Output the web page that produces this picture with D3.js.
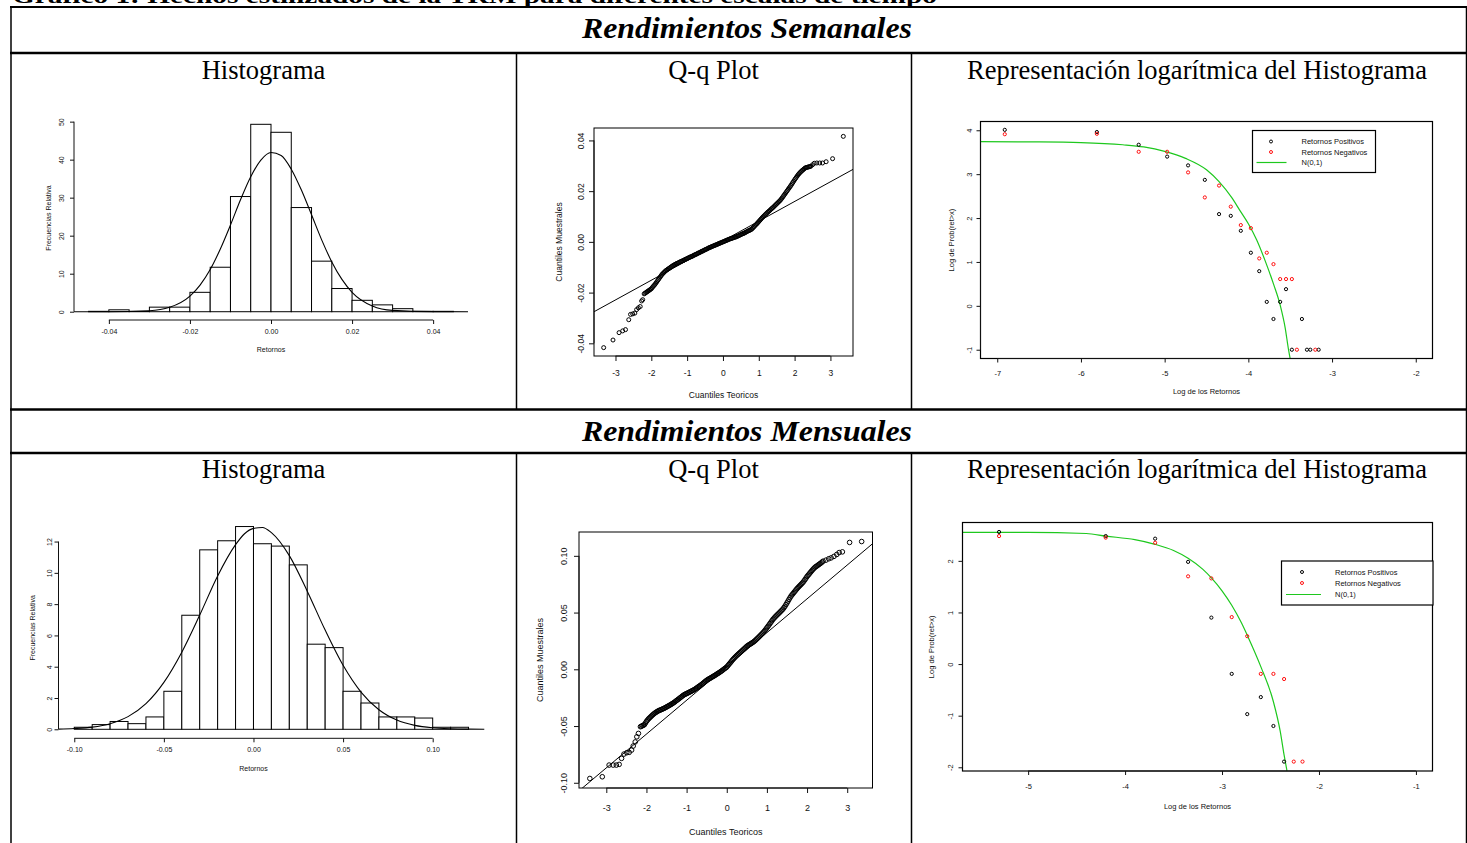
<!DOCTYPE html>
<html>
<head>
<meta charset="utf-8">
<script src="https://cdn.jsdelivr.net/npm/d3@7"></script>
<style>
  body { margin: 0; background: #fff; }
  svg { display: block; }
</style>
</head>
<body>
<svg id="chart" width="1467" height="843"></svg>
<script>
// ---------- data ----------
const pageTitle = "Gráfico 1: Hechos estilizados de la TRM para diferentes escalas de tiempo";
const rowTitles = ["Rendimientos Semanales", "Rendimientos Mensuales"];
const columnTitles = ["Histograma", "Q-q Plot", "Representación logarítmica del Histograma"];
const legendLabels = ["Retornos Positivos", "Retornos Negativos", "N(0,1)"];

// weekly histogram
const weeklyBreaks = [-0.045, -0.04, -0.035, -0.03, -0.025, -0.02, -0.015, -0.01, -0.005, 0,
  0.005, 0.01, 0.015, 0.02, 0.025, 0.03, 0.035, 0.04, 0.045];
const weeklyFreq = [0.1, 0.5, 0.1, 1.2, 1.2, 5.1, 11.7, 30.3, 49.3, 47.2, 27.4, 13.3, 6.1, 3.0, 1.8, 0.8, 0.1, 0.1];
const weeklyDensX = [-0.0486, -0.04, -0.03, -0.025, -0.02, -0.0175, -0.015, -0.0125, -0.01, -0.0075, -0.005, -0.0025,
  0, 0.0025, 0.005, 0.0075, 0.01, 0.0125, 0.015, 0.0175, 0.02, 0.025, 0.03, 0.04, 0.0486];
const weeklyDensY = [0, 0.005, 0.24, 1.15, 4.1, 7.0, 11.1, 16.5, 22.8, 29.5, 35.5, 39.9,
  41.9, 41.1, 37.5, 32.0, 25.5, 18.9, 13.1, 8.5, 5.1, 1.5, 0.34, 0.01, 0];
const weeklyXTicks = [-0.04, -0.02, 0, 0.02, 0.04];
const weeklyYTicks = [0, 10, 20, 30, 40, 50];

// monthly histogram
const monthlyBreaks = [-0.10, -0.09, -0.08, -0.07, -0.06, -0.05, -0.04, -0.03, -0.02, -0.01, 0,
  0.01, 0.02, 0.03, 0.04, 0.05, 0.06, 0.07, 0.08, 0.09, 0.10, 0.11, 0.12];
const monthlyFreq = [0.13, 0.3, 0.5, 0.36, 0.79, 2.43, 7.29, 11.47, 12.05, 12.96, 11.86,
  11.71, 10.51, 5.44, 5.22, 2.43, 1.68, 0.79, 0.79, 0.72, 0.13, 0.13];
const monthlyDensX = [-0.1088, -0.10, -0.09, -0.08, -0.07, -0.06, -0.05, -0.04, -0.03, -0.02, -0.01, -0.005,
  0, 0.005, 0.01, 0.02, 0.03, 0.04, 0.05, 0.06, 0.07, 0.08, 0.09, 0.10, 0.11, 0.12, 0.1288];
const monthlyDensY = [0.01, 0.05, 0.14, 0.36, 0.81, 1.64, 3.0, 4.93, 7.3, 9.8, 11.8, 12.5,
  12.84, 12.9, 12.57, 11.1, 8.83, 6.34, 4.09, 2.38, 1.25, 0.59, 0.25, 0.096, 0.033, 0.01, 0.004];
const monthlyXTicks = [-0.10, -0.05, 0, 0.05, 0.10];
const monthlyYTicks = [0, 2, 4, 6, 8, 10, 12];

// weekly Q-Q plot: [theoretical quantile, sample quantile]
const qqWeekly = [
  [-3.33, -0.0417], [-3.07, -0.0387], [-2.90, -0.0358], [-2.80, -0.0351], [-2.72, -0.0346], [-2.63, -0.0307],
  [-2.58, -0.0286], [-2.52, -0.0284], [-2.46, -0.0281], [-2.41, -0.0267], [-2.36, -0.0260], [-2.31, -0.0255],
  [-2.27, -0.0233], [-2.24, -0.0228],
  [-2.200, -0.02050], [-2.175, -0.02025], [-2.150, -0.02000], [-2.125, -0.01975], [-2.100, -0.01950],
  [-2.075, -0.01925], [-2.050, -0.01900], [-2.025, -0.01875], [-2.000, -0.01850], [-1.975, -0.01805],
  [-1.950, -0.01760], [-1.925, -0.01720], [-1.900, -0.01680], [-1.875, -0.01630], [-1.850, -0.01580],
  [-1.825, -0.01530], [-1.800, -0.01480], [-1.775, -0.01430], [-1.750, -0.01380], [-1.725, -0.01330],
  [-1.700, -0.01280], [-1.675, -0.01245], [-1.650, -0.01210], [-1.625, -0.01175], [-1.600, -0.01140],
  [-1.575, -0.01115], [-1.550, -0.01090], [-1.525, -0.01065], [-1.500, -0.01040], [-1.475, -0.01015],
  [-1.450, -0.00990], [-1.425, -0.00965], [-1.400, -0.00940], [-1.375, -0.00920], [-1.350, -0.00900],
  [-1.325, -0.00880], [-1.300, -0.00860], [-1.275, -0.00845], [-1.250, -0.00830], [-1.225, -0.00810],
  [-1.200, -0.00790], [-1.175, -0.00775], [-1.150, -0.00760], [-1.125, -0.00745], [-1.100, -0.00730],
  [-1.075, -0.00710], [-1.050, -0.00690], [-1.025, -0.00675], [-1.000, -0.00660], [-0.975, -0.00640],
  [-0.950, -0.00620], [-0.925, -0.00605], [-0.900, -0.00590], [-0.875, -0.00575], [-0.850, -0.00560],
  [-0.825, -0.00540], [-0.800, -0.00520], [-0.775, -0.00505], [-0.750, -0.00490], [-0.725, -0.00470],
  [-0.700, -0.00450], [-0.675, -0.00435], [-0.650, -0.00420], [-0.625, -0.00400], [-0.600, -0.00380],
  [-0.575, -0.00365], [-0.550, -0.00350], [-0.525, -0.00330], [-0.500, -0.00310], [-0.475, -0.00295],
  [-0.450, -0.00280], [-0.425, -0.00260], [-0.400, -0.00240], [-0.375, -0.00225], [-0.350, -0.00210],
  [-0.325, -0.00195], [-0.300, -0.00180], [-0.275, -0.00165], [-0.250, -0.00150], [-0.225, -0.00135],
  [-0.200, -0.00120], [-0.175, -0.00105], [-0.150, -0.00090], [-0.125, -0.00075], [-0.100, -0.00060],
  [-0.075, -0.00045], [-0.050, -0.00030], [-0.025, -0.00015], [0.000, 0.00000], [0.025, 0.00015],
  [0.050, 0.00030], [0.075, 0.00045], [0.100, 0.00060], [0.125, 0.00075], [0.150, 0.00090],
  [0.175, 0.00105], [0.200, 0.00120], [0.225, 0.00130], [0.250, 0.00140], [0.275, 0.00155],
  [0.300, 0.00170], [0.325, 0.00180], [0.350, 0.00190], [0.375, 0.00205], [0.400, 0.00220],
  [0.425, 0.00235], [0.450, 0.00250], [0.475, 0.00270], [0.500, 0.00290], [0.525, 0.00305],
  [0.550, 0.00320], [0.575, 0.00335], [0.600, 0.00350], [0.625, 0.00370], [0.650, 0.00390],
  [0.675, 0.00410], [0.700, 0.00430], [0.725, 0.00445], [0.750, 0.00460], [0.775, 0.00480],
  [0.800, 0.00500], [0.825, 0.00535], [0.850, 0.00570], [0.875, 0.00610], [0.900, 0.00650],
  [0.925, 0.00685], [0.950, 0.00720], [0.975, 0.00760], [1.000, 0.00800], [1.025, 0.00840],
  [1.050, 0.00880], [1.075, 0.00920], [1.100, 0.00960], [1.125, 0.00995], [1.150, 0.01030],
  [1.175, 0.01065], [1.200, 0.01100], [1.225, 0.01135], [1.250, 0.01170], [1.275, 0.01200],
  [1.300, 0.01230], [1.325, 0.01265], [1.350, 0.01300], [1.375, 0.01330], [1.400, 0.01360],
  [1.425, 0.01395], [1.450, 0.01430], [1.475, 0.01465], [1.500, 0.01500], [1.525, 0.01535],
  [1.550, 0.01570], [1.575, 0.01605], [1.600, 0.01640], [1.625, 0.01685], [1.650, 0.01730],
  [1.675, 0.01780], [1.700, 0.01830], [1.725, 0.01880], [1.750, 0.01930], [1.775, 0.01980],
  [1.800, 0.02030], [1.825, 0.02080], [1.850, 0.02130], [1.875, 0.02180], [1.900, 0.02230],
  [1.925, 0.02285], [1.950, 0.02340], [1.975, 0.02395], [2.000, 0.02450], [2.025, 0.02500],
  [2.050, 0.02550], [2.075, 0.02600], [2.100, 0.02650], [2.125, 0.02690], [2.150, 0.02730],
  [2.175, 0.02765], [2.200, 0.02800], [2.225, 0.02830], [2.250, 0.02860], [2.275, 0.02890],
  [2.300, 0.02920], [2.325, 0.02930], [2.350, 0.02940], [2.375, 0.02950], [2.400, 0.02960],
  [2.425, 0.02970], [2.450, 0.02980],
  [2.50, 0.0304], [2.55, 0.0310], [2.62, 0.0311], [2.70, 0.0311], [2.78, 0.0311], [2.88, 0.0316],
  [3.06, 0.0328], [3.36, 0.0416]
];
const qqWeeklyLine = [[-3.8, -0.0291], [3.8, 0.0299]];
const qqWeeklyXTicks = [-3, -2, -1, 0, 1, 2, 3];
const qqWeeklyYTicks = [-0.04, -0.02, 0, 0.02, 0.04];

// monthly Q-Q plot
const qqMonthly = [
  [-3.41, -0.0962], [-3.10, -0.0947], [-2.93, -0.0844], [-2.83, -0.0844], [-2.75, -0.0844], [-2.68, -0.0838],
  [-2.62, -0.0785], [-2.56, -0.0747], [-2.49, -0.0735], [-2.43, -0.0732], [-2.37, -0.0712], [-2.33, -0.0676],
  [-2.28, -0.0640], [-2.24, -0.0595], [-2.20, -0.0565],
  [-2.150, -0.05060], [-2.125, -0.05015], [-2.100, -0.04970], [-2.075, -0.04925], [-2.050, -0.04880],
  [-2.025, -0.04735], [-2.000, -0.04590], [-1.975, -0.04480], [-1.950, -0.04370], [-1.925, -0.04285],
  [-1.900, -0.04200], [-1.875, -0.04115], [-1.850, -0.04030], [-1.825, -0.03955], [-1.800, -0.03880],
  [-1.775, -0.03820], [-1.750, -0.03760], [-1.725, -0.03705], [-1.700, -0.03650], [-1.675, -0.03615],
  [-1.650, -0.03580], [-1.625, -0.03540], [-1.600, -0.03500], [-1.575, -0.03460], [-1.550, -0.03420],
  [-1.525, -0.03370], [-1.500, -0.03320], [-1.475, -0.03270], [-1.450, -0.03220], [-1.425, -0.03170],
  [-1.400, -0.03120], [-1.375, -0.03065], [-1.350, -0.03010], [-1.325, -0.02950], [-1.300, -0.02890],
  [-1.275, -0.02820], [-1.250, -0.02750], [-1.225, -0.02685], [-1.200, -0.02620], [-1.175, -0.02550],
  [-1.150, -0.02480], [-1.125, -0.02410], [-1.100, -0.02340], [-1.075, -0.02280], [-1.050, -0.02220],
  [-1.025, -0.02180], [-1.000, -0.02140], [-0.975, -0.02095], [-0.950, -0.02050], [-0.925, -0.02005],
  [-0.900, -0.01960], [-0.875, -0.01915], [-0.850, -0.01870], [-0.825, -0.01820], [-0.800, -0.01770],
  [-0.775, -0.01710], [-0.750, -0.01650], [-0.725, -0.01585], [-0.700, -0.01520], [-0.675, -0.01460],
  [-0.650, -0.01400], [-0.625, -0.01330], [-0.600, -0.01260], [-0.575, -0.01185], [-0.550, -0.01110],
  [-0.525, -0.01040], [-0.500, -0.00970], [-0.475, -0.00915], [-0.450, -0.00860], [-0.425, -0.00810],
  [-0.400, -0.00760], [-0.375, -0.00705], [-0.350, -0.00650], [-0.325, -0.00600], [-0.300, -0.00550],
  [-0.275, -0.00490], [-0.250, -0.00430], [-0.225, -0.00375], [-0.200, -0.00320], [-0.175, -0.00260],
  [-0.150, -0.00200], [-0.125, -0.00135], [-0.100, -0.00070], [-0.075, 0.00000], [-0.050, 0.00070],
  [-0.025, 0.00135], [0.000, 0.00200], [0.025, 0.00310], [0.050, 0.00420], [0.075, 0.00525],
  [0.100, 0.00630], [0.125, 0.00740], [0.150, 0.00850], [0.175, 0.00945], [0.200, 0.01040],
  [0.225, 0.01130], [0.250, 0.01220], [0.275, 0.01300], [0.300, 0.01380], [0.325, 0.01460],
  [0.350, 0.01540], [0.375, 0.01620], [0.400, 0.01700], [0.425, 0.01780], [0.450, 0.01860],
  [0.475, 0.01945], [0.500, 0.02030], [0.525, 0.02090], [0.550, 0.02150], [0.575, 0.02205],
  [0.600, 0.02260], [0.625, 0.02315], [0.650, 0.02370], [0.675, 0.02440], [0.700, 0.02510],
  [0.725, 0.02595], [0.750, 0.02680], [0.775, 0.02765], [0.800, 0.02850], [0.825, 0.02940],
  [0.850, 0.03030], [0.875, 0.03120], [0.900, 0.03210], [0.925, 0.03315], [0.950, 0.03420],
  [0.975, 0.03540], [1.000, 0.03660], [1.025, 0.03780], [1.050, 0.03900], [1.075, 0.04025],
  [1.100, 0.04150], [1.125, 0.04275], [1.150, 0.04400], [1.175, 0.04500], [1.200, 0.04600],
  [1.225, 0.04690], [1.250, 0.04780], [1.275, 0.04865], [1.300, 0.04950], [1.325, 0.05040],
  [1.350, 0.05130], [1.375, 0.05220], [1.400, 0.05310], [1.425, 0.05435], [1.450, 0.05560],
  [1.475, 0.05705], [1.500, 0.05850], [1.525, 0.06005], [1.550, 0.06160], [1.575, 0.06305],
  [1.600, 0.06450], [1.625, 0.06560], [1.650, 0.06670], [1.675, 0.06780], [1.700, 0.06890],
  [1.725, 0.07000], [1.750, 0.07110], [1.775, 0.07205], [1.800, 0.07300], [1.825, 0.07390],
  [1.850, 0.07480], [1.875, 0.07575], [1.900, 0.07670], [1.925, 0.07790], [1.950, 0.07910],
  [1.975, 0.08045], [2.000, 0.08180], [2.025, 0.08285], [2.050, 0.08390], [2.075, 0.08500],
  [2.100, 0.08610], [2.125, 0.08715], [2.150, 0.08820], [2.175, 0.08910], [2.200, 0.09000],
  [2.225, 0.09060], [2.250, 0.09120], [2.275, 0.09185], [2.300, 0.09250], [2.325, 0.09315],
  [2.350, 0.09380], [2.375, 0.09455], [2.400, 0.09530],
  [2.47, 0.0962], [2.54, 0.0974], [2.60, 0.0982], [2.67, 0.0995], [2.74, 0.1012], [2.80, 0.1029],
  [2.88, 0.1035], [3.06, 0.1118], [3.36, 0.1126]
];
const qqMonthlyLine = [[-3.8, -0.1107], [3.8, 0.1157]];
const qqMonthlyXTicks = [-3, -2, -1, 0, 1, 2, 3];
const qqMonthlyYTicks = [-0.10, -0.05, 0, 0.05, 0.10];

// weekly log tails: [log return, log prob]
const logWeeklyPos = [[-6.91, 4.01], [-5.81, 3.96], [-5.31, 3.67], [-4.97, 3.40], [-4.72, 3.20], [-4.52, 2.87],
  [-4.35, 2.09], [-4.21, 2.05], [-4.09, 1.71], [-3.97, 1.21], [-3.87, 0.79], [-3.78, 0.09], [-3.70, -0.30],
  [-3.62, 0.09], [-3.55, 0.38], [-3.48, -1.0], [-3.36, -0.30], [-3.30, -1.0], [-3.26, -1.0], [-3.16, -1.0]];
const logWeeklyNeg = [[-6.91, 3.91], [-5.81, 3.92], [-5.31, 3.51], [-4.97, 3.51], [-4.72, 3.04], [-4.52, 2.47],
  [-4.35, 2.74], [-4.21, 2.26], [-4.09, 1.84], [-3.97, 1.77], [-3.87, 1.08], [-3.78, 1.21], [-3.70, 0.95],
  [-3.62, 0.61], [-3.55, 0.61], [-3.48, 0.61], [-3.42, -1.0], [-3.20, -1.0]];
const logWeeklyNormal = [[-7.2, 3.74], [-6.5, 3.735], [-6.0, 3.72], [-5.5, 3.67], [-5.25, 3.62], [-5.0, 3.52],
  [-4.75, 3.36], [-4.5, 3.10], [-4.35, 2.83], [-4.2, 2.47], [-4.1, 2.17], [-4.0, 1.87], [-3.9, 1.50],
  [-3.8, 1.03], [-3.7, 0.50], [-3.62, 0.02], [-3.56, -0.50], [-3.52, -1.0], [-3.50, -1.21]];
const logWeeklyXTicks = [-7, -6, -5, -4, -3, -2];
const logWeeklyYTicks = [-1, 0, 1, 2, 3, 4];

// monthly log tails
const logMonthlyPos = [[-5.30, 2.56], [-4.20, 2.48], [-3.69, 2.43], [-3.35, 1.98], [-3.11, 0.90], [-2.90, -0.19],
  [-2.74, -0.97], [-2.60, -0.64], [-2.47, -1.20], [-2.36, -1.89]];
const logMonthlyNeg = [[-5.30, 2.48], [-4.20, 2.45], [-3.69, 2.35], [-3.35, 1.70], [-3.11, 1.66], [-2.90, 0.91],
  [-2.74, 0.54], [-2.60, -0.19], [-2.47, -0.19], [-2.36, -0.29], [-2.26, -1.89], [-2.17, -1.89]];
const logMonthlyNormal = [[-5.68, 2.55], [-5.0, 2.55], [-4.4, 2.53], [-4.2, 2.48], [-3.9, 2.41], [-3.69, 2.32],
  [-3.5, 2.20], [-3.35, 2.05], [-3.2, 1.84], [-3.11, 1.67], [-3.0, 1.42], [-2.9, 1.14], [-2.8, 0.80],
  [-2.74, 0.56], [-2.6, -0.05], [-2.47, -0.73], [-2.4, -1.30], [-2.36, -1.76], [-2.33, -2.07]];
const logMonthlyXTicks = [-5, -4, -3, -2, -1];
const logMonthlyYTicks = [-2, -1, 0, 1, 2];

// ---------- drawing ----------
const svg = d3.select("#chart");
const SANS = "'Liberation Sans', Arial, sans-serif";
const SERIF = "'Liberation Serif', 'Times New Roman', serif";
const INK = "#111";

// table frame
const frame = svg.append("g").attr("stroke", "#000").attr("fill", "none");
frame.append("line").attr("x1", 10).attr("x2", 1467).attr("y1", 7).attr("y2", 7).attr("stroke-width", 2);
frame.append("line").attr("x1", 11).attr("x2", 11).attr("y1", 6).attr("y2", 843).attr("stroke-width", 1.5);
frame.append("line").attr("x1", 1466.5).attr("x2", 1466.5).attr("y1", 6).attr("y2", 843).attr("stroke-width", 1.5);
[53, 409.5, 453].forEach(y => {
  frame.append("line").attr("x1", 10).attr("x2", 1467).attr("y1", y).attr("y2", y).attr("stroke-width", 2.5);
});
[516.5, 911.5].forEach(x => {
  frame.append("line").attr("x1", x).attr("x2", x).attr("y1", 53).attr("y2", 409.5).attr("stroke-width", 1.5);
  frame.append("line").attr("x1", x).attr("x2", x).attr("y1", 453).attr("y2", 843).attr("stroke-width", 1.5);
});

// page caption, cut off at the top edge as in the source page
svg.append("text").attr("x", 12).attr("y", 2.5)
  .attr("font-family", SERIF).attr("font-weight", "bold").attr("font-size", 20)
  .attr("textLength", 925).attr("lengthAdjust", "spacingAndGlyphs")
  .text(pageTitle);

// row titles
[38, 441].forEach((y, i) => {
  svg.append("text").attr("x", 747).attr("y", y).attr("text-anchor", "middle")
    .attr("font-family", SERIF).attr("font-weight", "bold").attr("font-style", "italic")
    .attr("font-size", 29).attr("textLength", 330).attr("lengthAdjust", "spacingAndGlyphs")
    .text(rowTitles[i]);
});

// column headings
const colCenters = [263.5, 713.5, 1197];
[79, 478].forEach(y => {
  columnTitles.forEach((t, i) => {
    svg.append("text").attr("x", colCenters[i]).attr("y", y).attr("text-anchor", "middle")
      .attr("font-family", SERIF).attr("font-size", 26.5).text(t);
  });
});

// ---------- helpers ----------
const fmt2 = d => d.toFixed(2);
const fmt0 = d => String(d);

function bottomAxis(scale, ticks, fmt, y, o) {
  const g = svg.append("g").attr("transform", `translate(0,${y})`)
    .call(d3.axisBottom(scale).tickValues(ticks).tickFormat(fmt)
      .tickSize(o.tick).tickPadding(o.pad).tickSizeOuter(0));
  g.attr("font-family", SANS).attr("font-size", o.size);
  g.select(".domain").attr("d", `M${scale(ticks[0])},0H${scale(ticks[ticks.length - 1])}`)
    .attr("stroke", INK);
  g.selectAll(".tick line").attr("stroke", INK);
  g.selectAll(".tick text").attr("fill", INK);
  return g;
}

function leftAxis(scale, ticks, fmt, x, o) {
  const g = svg.append("g").attr("transform", `translate(${x},0)`)
    .call(d3.axisLeft(scale).tickValues(ticks).tickFormat(fmt)
      .tickSize(o.tick).tickSizeOuter(0));
  g.attr("font-family", SANS).attr("font-size", o.size);
  g.select(".domain").attr("d", `M0,${scale(ticks[0])}V${scale(ticks[ticks.length - 1])}`)
    .attr("stroke", INK);
  g.selectAll(".tick line").attr("stroke", INK);
  g.selectAll(".tick text").attr("fill", INK).attr("x", 0).attr("dy", null)
    .attr("text-anchor", "middle")
    .attr("transform", `translate(${-o.off},0) rotate(-90)`);
  return g;
}

function label(text, x, y, size, rotate) {
  svg.append("text")
    .attr("transform", `translate(${x},${y})` + (rotate ? " rotate(-90)" : ""))
    .attr("text-anchor", "middle").attr("font-family", SANS).attr("font-size", size)
    .attr("fill", INK).text(text);
}

let clipId = 0;
function clipRect(x0, y0, x1, y1) {
  const id = "clip" + (clipId++);
  svg.append("clipPath").attr("id", id).append("rect")
    .attr("x", x0).attr("y", y0).attr("width", x1 - x0).attr("height", y1 - y0);
  return `url(#${id})`;
}

// ---------- histograms ----------
function histogram(c) {
  const x = d3.scaleLinear().domain(c.xDomain).range(c.xRange);
  const y = d3.scaleLinear().domain(c.yDomain).range(c.yRange);
  const bins = c.freq.map((f, i) => ({ x0: c.breaks[i], x1: c.breaks[i + 1], f }));
  svg.append("g").selectAll("rect").data(bins).join("rect")
    .attr("x", d => x(d.x0)).attr("width", d => x(d.x1) - x(d.x0))
    .attr("y", d => y(d.f)).attr("height", d => y(0) - y(d.f))
    .attr("fill", "#fff").attr("stroke", "#000").attr("stroke-width", 1);
  const line = d3.line().x((d, i) => x(c.densX[i])).y(d => y(d)).curve(d3.curveMonotoneX);
  svg.append("path").attr("d", line(c.densY)).attr("fill", "none")
    .attr("stroke", "#000").attr("stroke-width", 1.1);
  bottomAxis(x, c.xTicks, fmt2, c.xAxisY, { tick: 4, pad: 5, size: 7 });
  leftAxis(y, c.yTicks, fmt0, c.yAxisX, { tick: 4, off: c.yLabOff, size: 7 });
  label("Retornos", x(0), c.xTitleY, 7, false);
  label("Frecuencias Relativa", c.yTitleX, (c.yRange[0] + c.yRange[1]) / 2, 7, true);
}

histogram({
  breaks: weeklyBreaks, freq: weeklyFreq, densX: weeklyDensX, densY: weeklyDensY,
  xTicks: weeklyXTicks, yTicks: weeklyYTicks,
  xDomain: [-0.0486, 0.0486], xRange: [74, 468],
  yDomain: [-1.97, 51.3], yRange: [319.2, 116.7],
  xAxisY: 320, yAxisX: 74, yLabOff: 10.5, xTitleY: 351.5, yTitleX: 50.5
});

histogram({
  breaks: monthlyBreaks, freq: monthlyFreq, densX: monthlyDensX, densY: monthlyDensY,
  xTicks: monthlyXTicks, yTicks: monthlyYTicks,
  xDomain: [-0.1088, 0.1288], xRange: [58.5, 484.3],
  yDomain: [-0.518, 13.48], yRange: [737.4, 518.4],
  xAxisY: 738.3, yAxisX: 58.5, yLabOff: 6.5, xTitleY: 771, yTitleX: 35
});

// ---------- Q-Q plots ----------
function qqPlot(c) {
  const x = d3.scaleLinear().domain(c.xDomain).range([c.box[0], c.box[2]]);
  const y = d3.scaleLinear().domain(c.yDomain).range([c.box[3], c.box[1]]);
  const clip = clipRect(c.box[0], c.box[1], c.box[2], c.box[3]);
  svg.append("g").selectAll("circle").data(c.points).join("circle")
    .attr("cx", d => x(d[0])).attr("cy", d => y(d[1])).attr("r", c.r)
    .attr("fill", "none").attr("stroke", "#000").attr("stroke-width", 1);
  svg.append("path").attr("clip-path", clip)
    .attr("d", d3.line().x(d => x(d[0])).y(d => y(d[1]))(c.line))
    .attr("fill", "none").attr("stroke", "#000").attr("stroke-width", 1);
  svg.append("rect").attr("x", c.box[0]).attr("y", c.box[1])
    .attr("width", c.box[2] - c.box[0]).attr("height", c.box[3] - c.box[1])
    .attr("fill", "none").attr("stroke", "#000").attr("stroke-width", 1);
  bottomAxis(x, c.xTicks, fmt0, c.box[3], { tick: 5, pad: c.xPad, size: c.size });
  leftAxis(y, c.yTicks, fmt2, c.box[0], { tick: 5, off: c.yLabOff, size: c.size });
  label("Cuantiles Teoricos", (c.box[0] + c.box[2]) / 2, c.xTitleY, c.size, false);
  label("Cuantiles Muestrales", c.yTitleX, (c.box[1] + c.box[3]) / 2, c.size, true);
}

qqPlot({
  points: qqWeekly, line: qqWeeklyLine, xTicks: qqWeeklyXTicks, yTicks: qqWeeklyYTicks,
  xDomain: [-3.60, 3.63], yDomain: [-0.0450, 0.0449], box: [594, 128, 853, 356],
  r: 2, size: 8.5, xPad: 9, yLabOff: 10, xTitleY: 397.5, yTitleX: 562
});

qqPlot({
  points: qqMonthly, line: qqMonthlyLine, xTicks: qqMonthlyXTicks, yTicks: qqMonthlyYTicks,
  xDomain: [-3.68, 3.63], yDomain: [-0.1046, 0.1210], box: [579, 532, 872.5, 788],
  r: 2.3, size: 9, xPad: 12, yLabOff: 12, xTitleY: 834.5, yTitleX: 543
});

// ---------- log-log tail plots ----------
function logPlot(c) {
  const x = d3.scaleLinear().domain(c.xDomain).range([c.box[0], c.box[2]]);
  const y = d3.scaleLinear().domain(c.yDomain).range([c.box[3], c.box[1]]);
  const clip = clipRect(c.box[0], c.box[1], c.box[2], c.box[3]);
  svg.append("path").attr("clip-path", clip)
    .attr("d", d3.line().x(d => x(d[0])).y(d => y(d[1])).curve(d3.curveMonotoneX)(c.normal))
    .attr("fill", "none").attr("stroke", "#1ec81e").attr("stroke-width", 1.2);
  svg.append("g").selectAll("circle").data(c.pos).join("circle")
    .attr("cx", d => x(d[0])).attr("cy", d => y(d[1])).attr("r", 1.6)
    .attr("fill", "none").attr("stroke", "#000").attr("stroke-width", 1);
  svg.append("g").selectAll("circle").data(c.neg).join("circle")
    .attr("cx", d => x(d[0])).attr("cy", d => y(d[1])).attr("r", 1.6)
    .attr("fill", "none").attr("stroke", "#ff1010").attr("stroke-width", 1);
  svg.append("rect").attr("x", c.box[0]).attr("y", c.box[1])
    .attr("width", c.box[2] - c.box[0]).attr("height", c.box[3] - c.box[1])
    .attr("fill", "none").attr("stroke", "#000").attr("stroke-width", 1.2);
  bottomAxis(x, c.xTicks, fmt0, c.box[3], { tick: 4, pad: c.xPad, size: 7.5 });
  leftAxis(y, c.yTicks, fmt0, c.box[0], { tick: 4, off: c.yLabOff, size: 7.5 });
  label("Log de los Retornos", (c.box[0] + c.box[2]) / 2, c.xTitleY, 7.5, false);
  label("Log de Prob(ret>x)", c.yTitleX, (c.box[1] + c.box[3]) / 2, 7.5, true);

  // legend
  const L = c.legend;
  const lg = svg.append("g").attr("font-family", SANS).attr("font-size", 7.5).attr("fill", INK);
  lg.append("rect").attr("x", L.x0).attr("y", L.y0).attr("width", L.x1 - L.x0).attr("height", L.y1 - L.y0)
    .attr("fill", "#fff").attr("stroke", "#000").attr("stroke-width", 1.2);
  lg.append("circle").attr("cx", L.sym).attr("cy", L.rows[0]).attr("r", 1.5)
    .attr("fill", "none").attr("stroke", "#000").attr("stroke-width", 1);
  lg.append("circle").attr("cx", L.sym).attr("cy", L.rows[1]).attr("r", 1.5)
    .attr("fill", "none").attr("stroke", "#ff1010").attr("stroke-width", 1);
  lg.append("line").attr("x1", L.line[0]).attr("x2", L.line[1]).attr("y1", L.rows[2]).attr("y2", L.rows[2])
    .attr("stroke", "#1ec81e").attr("stroke-width", 1.2);
  legendLabels.forEach((t, i) => {
    lg.append("text").attr("x", L.text).attr("y", L.rows[i]).attr("dy", "0.35em").text(t);
  });
}

logPlot({
  pos: logWeeklyPos, neg: logWeeklyNeg, normal: logWeeklyNormal,
  xTicks: logWeeklyXTicks, yTicks: logWeeklyYTicks,
  xDomain: [-7.2, -1.8], yDomain: [-1.2, 4.2], box: [980.5, 121.5, 1432.5, 358.5],
  xPad: 8, yLabOff: 9, xTitleY: 393.5, yTitleX: 954,
  legend: { x0: 1252.5, y0: 130.5, x1: 1375.5, y1: 172.5, sym: 1271, text: 1301.5,
    rows: [141.5, 152, 162.5], line: [1256.5, 1286.5] }
});

logPlot({
  pos: logMonthlyPos, neg: logMonthlyNeg, normal: logMonthlyNormal,
  xTicks: logMonthlyXTicks, yTicks: logMonthlyYTicks,
  xDomain: [-5.677, -0.829], yDomain: [-2.072, 2.743], box: [962.5, 522.5, 1432.5, 771],
  xPad: 9, yLabOff: 10, xTitleY: 808.5, yTitleX: 934,
  legend: { x0: 1281.5, y0: 561, x1: 1433, y1: 605, sym: 1302, text: 1335,
    rows: [572, 583, 594.5], line: [1286, 1321] }
});
</script>
</body>
</html>
